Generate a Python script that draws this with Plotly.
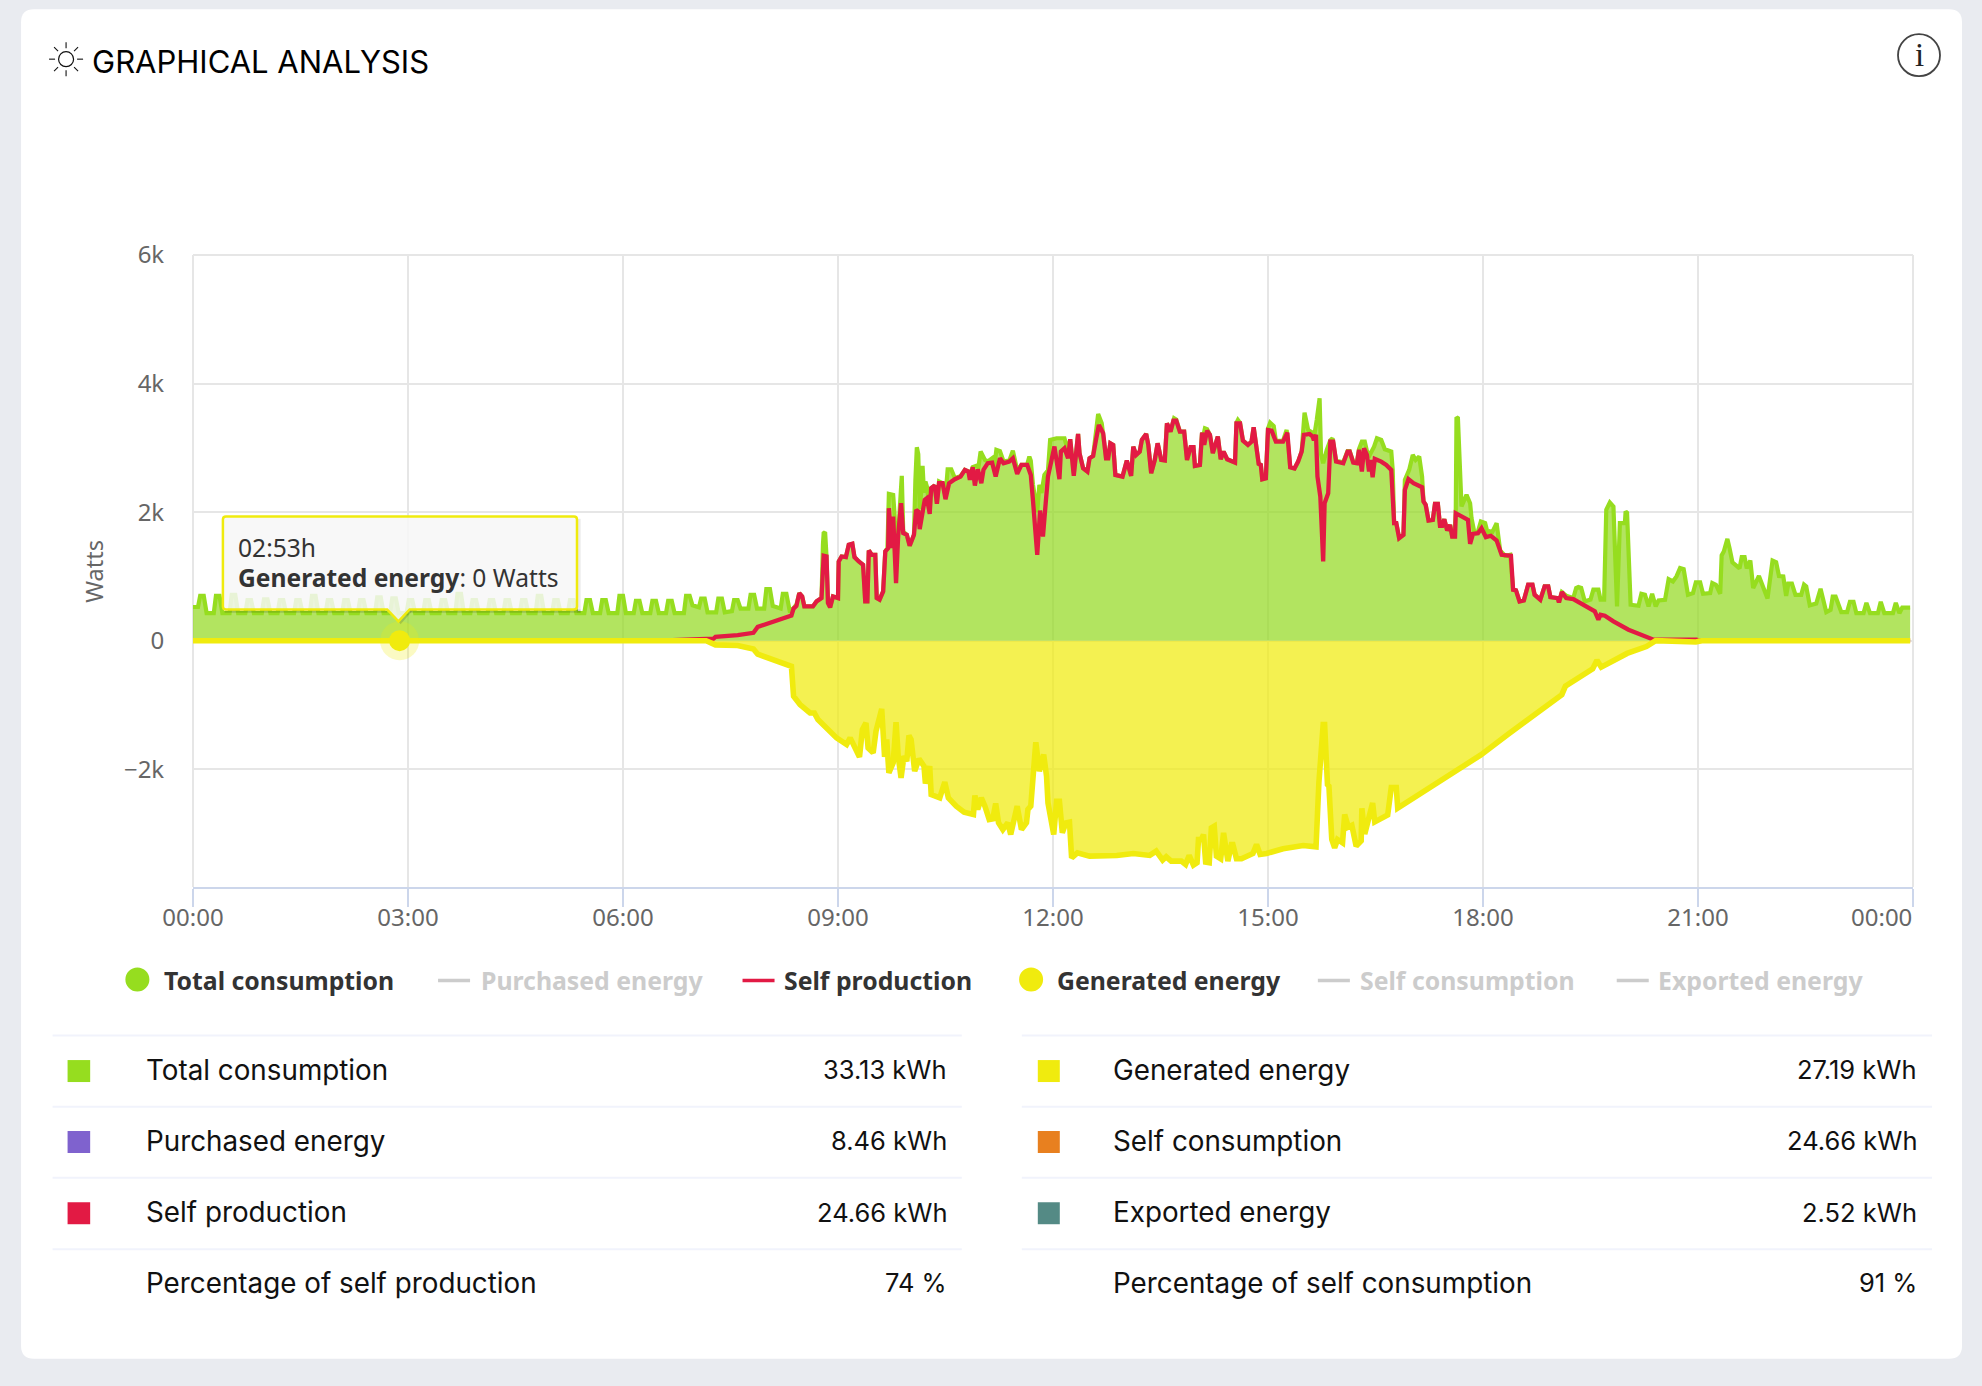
import plotly.graph_objects as go

W, H = 1982, 1386
PL, PR, PT, PB = 193.4, 1913.0, 255.0, 887.5

tick_hours = [0, 3, 6, 9, 12, 15, 18, 21, 24]
tick_labels = ["00:00", "03:00", "06:00", "09:00", "12:00", "15:00", "18:00", "21:00", "00:00"]
y_ticks = [-2000, 0, 2000, 4000, 6000]
y_labels = ["−2k", "0", "2k", "4k", "6k"]

# (hour, watts) readings
total_night = [(0,524),(0.07,524),(0.10,696),(0.15,696),(0.19,428),(0.29,428),(0.32,696),(0.37,696),(0.41,428),(0.51,428),(0.54,712),(0.59,712),(0.63,428),(0.73,428),(0.76,632),(0.81,632),(0.85,428),(0.96,428),(0.99,642),(1.04,642),(1.08,428),(1.18,428),(1.21,632),(1.26,632),(1.30,428),(1.41,428),(1.44,632),(1.49,632),(1.53,428),(1.63,428),(1.66,696),(1.71,696),(1.75,428),(1.85,428),(1.88,632),(1.93,632),(1.97,428),(2.08,428),(2.11,632),(2.16,632),(2.20,428),(2.30,428),(2.33,632),(2.38,632),(2.42,428),(2.54,428),(2.57,674),(2.62,674),(2.66,428),(2.75,428),(2.78,658),(2.83,658),(2.87,428),(2.98,428),(3.01,632),(3.06,632),(3.10,428),(3.21,428),(3.24,632),(3.29,632),(3.33,428),(3.44,428),(3.47,632),(3.52,632),(3.56,428),(3.66,428),(3.69,728),(3.74,728),(3.78,428),(3.87,428),(3.90,632),(3.95,632),(3.99,428),(4.11,428),(4.14,632),(4.19,632),(4.23,428),(4.33,428),(4.36,632),(4.41,632),(4.45,428),(4.56,428),(4.59,632),(4.64,632),(4.68,428),(4.78,428),(4.81,696),(4.86,696),(4.90,428),(5.01,428),(5.04,632),(5.09,632),(5.13,428),(5.23,428),(5.26,632),(5.31,632),(5.35,428),(5.46,428),(5.49,632),(5.54,632),(5.58,428),(5.68,428),(5.71,632),(5.76,632),(5.80,428),(5.92,428),(5.95,696),(6.00,696),(6.04,428),(6.15,428),(6.18,621),(6.23,621),(6.27,428),(6.38,428),(6.41,621),(6.46,621),(6.50,428),(6.60,428),(6.63,621),(6.68,621),(6.72,428),(6.85,428),(6.88,696),(6.93,696),(6.97,550),(7.06,520),(7.09,653),(7.14,653),(7.18,440),(7.30,440),(7.33,653),(7.38,653),(7.42,440),(7.52,460),(7.55,632),(7.60,632),(7.64,500),(7.75,500),(7.78,712),(7.83,712),(7.87,500),(7.97,500),(8.00,803),(8.05,803),(8.09,540),(8.20,500),(8.23,728),(8.28,728),(8.33,440)]
total_morning = [(8.38,520),(8.42,560),(8.46,740),(8.50,689),(8.53,533),(8.65,533),(8.70,611),(8.77,663),(8.79,1500),(8.80,1673),(8.82,1690),(8.84,1310),(8.86,585),(8.89,518),(8.93,689),(9.00,663),(9.01,1232),(9.05,1310),(9.11,1300),(9.15,1491),(9.20,1507),(9.23,1300),(9.29,1232),(9.35,1181),(9.38,611),(9.41,611),(9.43,1403),(9.47,1336),(9.52,1336),(9.54,663),(9.58,637),(9.63,766),(9.66,1388),(9.69,1440),(9.71,2284),(9.77,2268),(9.79,1950),(9.81,1300),(9.84,1647),(9.87,2400),(9.89,2564),(9.91,1700),(9.96,1647),(10.00,1476),(10.06,1647),(10.08,2500),(10.10,3009),(10.12,2900),(10.14,2050),(10.16,2300),(10.18,2719),(10.20,2300),(10.22,2476),(10.24,2400),(10.28,2050),(10.30,2372),(10.35,2414),(10.38,2129),(10.41,2476),(10.46,2450),(10.50,2250),(10.53,2667),(10.58,2667),(10.63,2530),(10.71,2560),(10.77,2657),(10.82,2631),(10.84,2560),(10.88,2700),(10.93,2719),(10.96,2700),(10.99,2942),(11.05,2812),(11.09,2790),(11.15,2838),(11.18,2700),(11.21,2968),(11.26,2950),(11.31,2790),(11.39,2800),(11.44,2957),(11.50,2650),(11.56,2735),(11.64,2740),(11.67,2864),(11.69,2800),(11.72,2430),(11.76,2150),(11.78,2000),(11.81,2424),(11.84,2300),(11.88,2579),(11.93,2650),(11.96,3123)]
total_midday = [(12.05,3149),(12.16,3149),(12.21,2950),(12.24,3133),(12.27,2800),(12.29,2600),(12.32,2900),(12.35,3216),(12.37,2916),(12.42,2683),(12.48,2631),(12.51,2838),(12.56,2874),(12.60,3200),(12.63,3527),(12.68,3382),(12.70,3227),(12.74,2838),(12.77,2838),(12.80,3071),(12.84,3045),(12.87,2579),(12.97,2553),(13.03,2802),(13.09,2564),(13.12,3019),(13.16,2890),(13.21,2942),(13.24,3123),(13.30,3216),(13.33,3045),(13.37,2605),(13.42,2812),(13.46,3071),(13.51,2812),(13.56,2802),(13.59,3382),(13.64,3252),(13.69,3460),(13.72,3440),(13.77,3252),(13.83,3252),(13.87,2812),(13.92,3009),(13.96,3009),(13.98,2719),(14.05,2734),(14.08,3237),(14.10,3200),(14.12,3304),(14.15,3290),(14.19,3201),(14.23,2916),(14.30,3175),(14.34,2823),(14.38,2942),(14.43,2823),(14.54,2771),(14.56,3390),(14.58,3434),(14.61,3390),(14.65,3113),(14.72,3045),(14.77,3097),(14.80,3320),(14.84,2994),(14.87,2750),(14.90,2734),(14.92,2512),(14.97,2527),(15.00,3300),(15.03,3392),(15.08,3340),(15.11,3110),(15.21,3110),(15.26,3278),(15.31,2698),(15.37,2678),(15.42,2786),(15.47,2942),(15.49,3300),(15.51,3548),(15.56,3278),(15.61,3252),(15.65,3220),(15.68,3434),(15.72,3770),(15.74,2900),(15.77,2760),(15.82,2968),(15.87,3120),(15.90,3149)]
total_afternoon = [(15.95,2800),(16.05,2775),(16.11,2950),(16.14,2950),(16.19,2780),(16.24,2770),(16.27,2980),(16.31,3097),(16.35,3097),(16.38,2950),(16.42,2890),(16.48,3019),(16.52,3149),(16.58,3123),(16.63,2978),(16.72,2942),(16.74,2657),(16.76,1828),(16.79,1828),(16.83,1595),(16.89,1647),(16.91,2501),(16.97,2657),(17.02,2890),(17.06,2812),(17.11,2864),(17.15,2553),(17.17,2165),(17.20,2113),(17.24,1869),(17.30,1880),(17.33,2128),(17.37,2128),(17.40,1787),(17.43,1787),(17.46,1890),(17.50,1714),(17.54,1802),(17.57,1621),(17.60,1621),(17.62,2009),(17.63,3475),(17.65,3460),(17.70,2087),(17.77,2268),(17.82,2139),(17.84,1906),(17.88,1680),(17.93,1700),(17.97,1854),(18.03,1828),(18.07,1650),(18.10,1700),(18.13,1690),(18.19,1828),(18.24,1400),(18.31,1320),(18.38,1336),(18.42,793),(18.46,782),(18.51,611),(18.57,627),(18.63,870),(18.69,870),(18.72,715),(18.80,637),(18.86,844),(18.91,844),(18.94,679),(19.04,663),(19.06,596),(19.10,756),(19.16,700),(19.26,663)]
total_evening = [(19.30,820),(19.33,834),(19.37,820),(19.42,611),(19.50,640),(19.54,793),(19.61,793),(19.64,637),(19.69,637),(19.72,2036),(19.77,2150),(19.82,2088),(19.87,534),(19.91,1829),(19.98,1829),(19.99,2010),(20.01,1990),(20.06,559),(20.17,544),(20.21,730),(20.26,715),(20.31,534),(20.36,730),(20.41,534),(20.45,627),(20.54,637),(20.59,958),(20.65,922),(20.70,1000),(20.75,1129),(20.80,1114),(20.86,715),(20.93,741),(20.97,906),(21.03,906),(21.07,730),(21.17,741),(21.20,896),(21.25,870),(21.31,730),(21.33,1327),(21.36,1388),(21.41,1584),(21.44,1440),(21.48,1220),(21.58,1124),(21.61,1300),(21.65,1300),(21.68,1124),(21.73,1247),(21.77,819),(21.85,1006),(21.97,658),(22.04,1247),(22.09,1220),(22.13,1006),(22.19,1000),(22.23,695),(22.26,888),(22.31,888),(22.36,712),(22.44,712),(22.48,872),(22.51,845),(22.56,551),(22.65,578),(22.71,808),(22.79,444),(22.85,480),(22.88,685),(22.92,685),(23.00,444),(23.08,444),(23.12,605),(23.17,605),(23.21,428),(23.31,428),(23.35,589),(23.40,428),(23.51,428),(23.55,605),(23.60,428),(23.72,428),(23.76,589),(23.81,428),(23.85,514),(23.96,514)]

self_morning = [(0,0),(6.50,0),(7.26,30),(7.29,59),(7.60,86),(7.82,123),(7.88,214),(8.35,390),(8.38,500),(8.42,540),(8.46,740),(8.50,689),(8.53,533),(8.65,533),(8.70,611),(8.77,663),(8.80,1321),(8.84,1310),(8.86,585),(8.89,518),(8.93,689),(9.00,663),(9.01,1232),(9.05,1310),(9.11,1300),(9.15,1491),(9.20,1507),(9.23,1300),(9.29,1232),(9.35,1181),(9.38,611),(9.41,611),(9.43,1403),(9.47,1336),(9.52,1336),(9.54,663),(9.58,637),(9.63,766),(9.66,1388),(9.70,1440),(9.71,2061),(9.75,1440),(9.77,1932),(9.81,896),(9.84,1647),(9.88,2139),(9.91,1673),(9.96,1647),(10.00,1476),(10.06,1647),(10.09,2035),(10.12,2010),(10.14,1735),(10.18,1958),(10.21,2191),(10.24,2217),(10.28,1973),(10.30,2372),(10.35,2414),(10.38,2129),(10.41,2450),(10.46,2450),(10.50,2201),(10.55,2450),(10.63,2512),(10.71,2553),(10.77,2657),(10.82,2631),(10.84,2502),(10.88,2698),(10.91,2414),(10.95,2667),(11.00,2450),(11.03,2657),(11.09,2761),(11.15,2771),(11.20,2553),(11.26,2838),(11.31,2761),(11.39,2787),(11.44,2838),(11.50,2595),(11.56,2735),(11.64,2735),(11.69,2579),(11.72,2191),(11.78,1336),(11.82,2025),(11.86,1621),(11.90,2165),(11.93,2553),(11.98,2812),(12.02,3020)]
self_midday = [(12.09,2512),(12.11,2942),(12.16,2994),(12.21,2838),(12.24,3133),(12.29,2564),(12.35,3216),(12.37,2916),(12.42,2683),(12.48,2631),(12.51,2838),(12.56,2874),(12.60,3123),(12.64,3356),(12.70,3227),(12.74,2838),(12.77,2838),(12.80,3071),(12.84,3045),(12.87,2579),(12.97,2553),(13.03,2802),(13.09,2564),(13.12,3019),(13.16,2890),(13.21,2942),(13.24,3123),(13.30,3216),(13.33,3045),(13.37,2605),(13.42,2812),(13.46,3071),(13.51,2812),(13.56,2802),(13.59,3382),(13.64,3252),(13.68,3423),(13.72,3423),(13.77,3252),(13.83,3252),(13.87,2812),(13.92,3009),(13.96,3009),(13.98,2719),(14.05,2734),(14.08,3237),(14.11,3045),(14.15,3268),(14.19,3201),(14.23,2916),(14.30,3175),(14.34,2823),(14.38,2942),(14.43,2823),(14.54,2771),(14.56,3382),(14.61,3382),(14.65,3113),(14.72,3045),(14.77,3097),(14.80,3320),(14.84,2994),(14.87,2750),(14.90,2734),(14.92,2512),(14.97,2527),(15.00,3278),(15.05,3268),(15.11,3097),(15.21,3097),(15.27,3237),(15.31,2698),(15.37,2678),(15.42,2786),(15.47,2942),(15.50,3201),(15.58,3216),(15.62,3180),(15.64,3120),(15.67,3201)]
self_afternoon = [(15.69,2553),(15.73,2242),(15.77,1232),(15.79,2139),(15.84,2294),(15.87,3097),(15.91,3097),(15.95,2786),(16.05,2760),(16.11,2942),(16.14,2942),(16.19,2771),(16.24,2760),(16.27,2968),(16.31,2631),(16.34,2994),(16.38,2890),(16.41,2631),(16.43,2812),(16.46,2543),(16.49,2828),(16.58,2786),(16.65,2734),(16.72,2657),(16.76,1828),(16.79,1828),(16.83,1595),(16.89,1647),(16.91,2346),(16.96,2512),(17.03,2450),(17.15,2387),(17.17,2165),(17.20,2113),(17.24,1869),(17.30,1880),(17.33,2128),(17.37,2128),(17.40,1787),(17.43,1787),(17.46,1890),(17.50,1714),(17.54,1802),(17.57,1621),(17.61,1621),(17.62,1983),(17.79,1880),(17.82,1507),(17.86,1662),(17.93,1673),(17.98,1750),(18.04,1611),(18.11,1632),(18.19,1559),(18.26,1336),(18.39,1321),(18.42,793),(18.46,782),(18.51,611),(18.57,627),(18.63,870),(18.69,870),(18.72,715),(18.80,637),(18.86,844),(18.91,844),(18.94,679),(19.04,663),(19.06,596),(19.10,756),(19.16,663),(19.26,648),(19.40,559),(19.56,456),(19.61,326),(19.64,404),(19.70,389),(19.82,300),(20.03,171),(20.19,104),(20.35,41),(20.38,15),(20.98,15),(21.00,0),(23.96,0)]

generated_morning = [(0,0),(7.16,0),(7.29,-65),(7.60,-75),(7.82,-128),(7.88,-210),(8.35,-399),(8.38,-865),(8.47,-994),(8.52,-1036),(8.61,-1124),(8.67,-1124),(8.72,-1227),(8.98,-1512),(9.12,-1616),(9.17,-1512),(9.23,-1642),(9.30,-1808),(9.34,-1383),(9.39,-1279),(9.42,-1668),(9.47,-1745),(9.49,-1745),(9.53,-1409),(9.56,-1305),(9.61,-1062),(9.65,-1808),(9.68,-1538),(9.71,-2056),(9.77,-1901),(9.81,-1269),(9.84,-1797),(9.88,-2134),(9.92,-1797),(9.96,-1875),(9.99,-1476),(10.02,-1538),(10.07,-2030),(10.13,-1839),(10.20,-1953),(10.22,-2222),(10.28,-1953),(10.30,-2393),(10.42,-2445),(10.49,-2201),(10.54,-2445),(10.65,-2574),(10.76,-2667),(10.89,-2704),(10.91,-2408),(10.95,-2626),(11.00,-2445),(11.05,-2574),(11.11,-2781),(11.16,-2771),(11.20,-2533),(11.24,-2833),(11.30,-2937),(11.37,-2833),(11.41,-3015),(11.50,-2574),(11.56,-2937),(11.63,-2833),(11.65,-2626),(11.69,-2574),(11.76,-1580),(11.81,-2030),(11.87,-1771),(11.91,-2108),(11.93,-2522),(12.01,-3015)]
generated_midday = [(12.05,-2497),(12.09,-2497),(12.13,-2989),(12.18,-2834),(12.23,-2823),(12.26,-3378),(12.34,-3300),(12.51,-3352),(12.89,-3341),(13.12,-3310),(13.35,-3341),(13.44,-3274),(13.53,-3414),(13.58,-3362),(13.65,-3429),(13.79,-3429),(13.85,-3481),(13.90,-3341),(13.96,-3491),(14.01,-3455),(14.03,-3093),(14.07,-3093),(14.10,-3015),(14.13,-3445),(14.18,-3455),(14.21,-2911),(14.25,-2885),(14.28,-3352),(14.34,-3393),(14.38,-2989),(14.44,-3429),(14.49,-3170),(14.51,-3170),(14.56,-3393),(14.63,-3393),(14.79,-3310),(14.84,-3170),(14.89,-3326),(14.98,-3310),(15.21,-3238),(15.49,-3186),(15.67,-3207),(15.71,-2212),(15.77,-1305),(15.79,-1305),(15.83,-2238),(15.85,-2264),(15.89,-3093),(15.93,-3222),(15.97,-3093)]
generated_afternoon = [(16.04,-3144),(16.07,-2704),(16.12,-2900),(16.17,-2873),(16.23,-3195),(16.30,-3115),(16.31,-2606),(16.35,-3007),(16.46,-2526),(16.49,-2820),(16.67,-2713),(16.72,-2285),(16.79,-2285),(16.81,-2606),(17.07,-2419),(17.50,-2098),(17.97,-1777),(18.35,-1456),(18.78,-1108),(19.10,-840),(19.15,-706),(19.53,-439),(19.59,-305),(19.65,-412),(20.01,-198),(20.28,-91),(20.41,0),(20.97,-21),(21.05,0),(23.96,0)]

hover_hour = [2.883]
hover_watts = [0]

legend_names = ["Total consumption", "Purchased energy", "Self production", "Generated energy", "Self consumption", "Exported energy"]
left_rows = ["Total consumption", "Purchased energy", "Self production", "Percentage of self production"]
left_vals = ["33.13 kWh", "8.46 kWh", "24.66 kWh", "74 %"]
right_rows = ["Generated energy", "Self consumption", "Exported energy", "Percentage of self consumption"]
right_vals = ["27.19 kWh", "24.66 kWh", "2.52 kWh", "91 %"]

C_GREEN, C_RED, C_YEL, C_PUR, C_ORG, C_TEAL = "#96DD1F", "#E21A44", "#F0EB0E", "#7F62CE", "#E8801F", "#548A85"
CHART_FONT = "Noto Sans"
TABLE_FONT = "Inter"

def unzip(*parts):
    pts = [p for part in parts for p in part]
    return [p[0] for p in pts], [p[1] for p in pts]

total_x, total_y = unzip(total_night, total_morning, total_midday, total_afternoon, total_evening)
self_x, self_y = unzip(self_morning, self_midday, self_afternoon)
gen_x, gen_y = unzip(generated_morning, generated_midday, generated_afternoon)

fig = go.Figure()
fig.add_trace(go.Scatter(x=total_x, y=total_y, name="Total consumption", mode="lines", fill="tozeroy",
                         line=dict(color=C_GREEN, width=4.2), fillcolor="rgba(148,218,34,0.72)"))
fig.add_trace(go.Scatter(x=self_x, y=self_y, name="Self production", mode="lines",
                         line=dict(color=C_RED, width=4.3)))
fig.add_trace(go.Scatter(x=gen_x, y=gen_y, name="Generated energy", mode="lines", fill="tozeroy",
                         line=dict(color=C_YEL, width=5.6), fillcolor="rgba(240,235,14,0.72)"))
fig.add_trace(go.Scatter(x=hover_hour, y=hover_watts, mode="markers", hoverinfo="skip",
                         marker=dict(size=39, color="rgba(240,235,14,0.25)", line=dict(width=0))))
fig.add_trace(go.Scatter(x=hover_hour, y=hover_watts, mode="markers", hoverinfo="skip",
                         marker=dict(size=21, color=C_YEL, line=dict(width=0))))

def px(x): return (x - PL) / (PR - PL)
def py(y): return (PB - y) / (PB - PT)

shapes, notes = [], []

def rect(x0, y0, x1, y1, color, layer="below"):
    shapes.append(dict(type="rect", xref="paper", yref="paper", x0=px(x0), x1=px(x1), y0=py(y0), y1=py(y1),
                       fillcolor=color, line=dict(width=0), layer=layer))

def line(x0, y0, x1, y1, color, width, layer="below"):
    shapes.append(dict(type="line", xref="paper", yref="paper", x0=px(x0), x1=px(x1), y0=py(y0), y1=py(y1),
                       line=dict(color=color, width=width), layer=layer))

def circle(cx, cy, r, fill, stroke=None, sw=0, layer="below"):
    shapes.append(dict(type="circle", xref="paper", yref="paper", x0=px(cx - r), x1=px(cx + r), y0=py(cy + r), y1=py(cy - r),
                       fillcolor=fill, line=dict(color=stroke or fill, width=sw), layer=layer))

def text(x, y, s, size, color, font, anchor="left", angle=0):
    notes.append(dict(text=s, xref="paper", yref="paper", x=px(x), y=py(y), xanchor=anchor, yanchor="middle",
                      showarrow=False, textangle=angle, align="left",
                      font=dict(size=size, color=color, family=font)))

def rounded(x0, y0, x1, y1, r):
    p = lambda a, b: f"{px(a):.5f} {py(b):.5f}"
    return (f"M {p(x0+r,y0)} L {p(x1-r,y0)} Q {p(x1,y0)} {p(x1,y0+r)} L {p(x1,y1-r)} Q {p(x1,y1)} {p(x1-r,y1)} "
            f"L {p(x0+r,y1)} Q {p(x0,y1)} {p(x0,y1-r)} L {p(x0,y0+r)} Q {p(x0,y0)} {p(x0+r,y0)} Z")

# card
shapes.append(dict(type="path", xref="paper", yref="paper", path=rounded(21.5, 9, 1962, 1359.5, 13),
                   fillcolor="#FFFFFF", line=dict(width=0), layer="below"))

# plot frame gridlines that sit on the range edges
line(PL, PT, PR, PT, "#E6E6E6", 2)
line(PL, PT, PL, PB, "#E6E6E6", 2)
line(PR, PT, PR, PB, "#E6E6E6", 2)

# title + sun icon
cx, cy = 66.5, 59
circle(cx, cy, 7.5, "rgba(0,0,0,0)", "#111111", 1.2)
for dx0, dy0, dx1, dy1 in [(0,-11,0,-17),(0,11,0,17),(-11,0,-17,0),(11,0,17,0),
                           (-8,-8,-12,-12),(8,-8,12,-12),(-8,8,-12,12),(8,8,12,12)]:
    line(cx+dx0, cy+dy0, cx+dx1, cy+dy1, "#111111", 1.1)
text(90.5, 61.5, "GRAPHICAL ANALYSIS", 31, "#000000", TABLE_FONT)

# info icon
circle(1919, 55, 21, "rgba(0,0,0,0)", "#444444", 1.8)
text(1919, 55, "i", 33, "#222222", "Liberation Serif", "center")

# y axis caption
text(95, 571.5, "Watts", 23.5, "#666666", CHART_FONT, "center", -90)

# last x label sits inside the plot's right edge
text(1914, 917.5, tick_labels[-1], 24, "#666666", CHART_FONT, "right")

# legend
lx = [(162, None), (479, 438.4), (782, 742.8), (1055.5, None), (1358, 1318), (1656.5, 1616.8)]
ly = 980.5
LEG_SIZE = 24.8
for i, name in enumerate(legend_names):
    muted = i in (1, 4, 5)
    text(lx[i][0], ly, f"<b>{name}</b>", LEG_SIZE, "#CCCCCC" if muted else "#333333", CHART_FONT)
    if lx[i][1] is not None:
        line(lx[i][1], 981, lx[i][1] + 32, 981, "#CCCCCC" if muted else C_RED, 3.4)
circle(137.8, 980, 12, C_GREEN)
circle(1031.3, 980, 12, C_YEL)

# summary tables
row_lines = [1036, 1107.5, 1178.5, 1250]
row_centres = [1070.5, 1141.5, 1212.8, 1283.8]
swatch_centres = [1071.7, 1142.7, 1214]
for y in row_lines:
    line(53, y, 962, y, "#F1F3FC", 2)
    line(1022, y, 1932, y, "#F1F3FC", 2)
left_sw = [C_GREEN, C_PUR, C_RED]
right_sw = [C_YEL, C_ORG, C_TEAL]
TSIZE, VSIZE = 27.8, 25.5
for i in range(4):
    yc = row_centres[i]
    text(144.8, yc, left_rows[i], TSIZE, "#111111", TABLE_FONT)
    text(949, yc, left_vals[i], VSIZE, "#111111", TABLE_FONT, "right")
    text(1111, yc, right_rows[i], TSIZE, "#111111", TABLE_FONT)
    text(1918.5, yc, right_vals[i], VSIZE, "#111111", TABLE_FONT, "right")
    if i < 3:
        sy = swatch_centres[i]
        rect(68, sy - 11, 90.6, sy + 11, left_sw[i])
        rect(1038, sy - 11, 1060, sy + 11, right_sw[i])

# tooltip
def tip_path():
    p = lambda a, b: f"{px(a):.5f} {py(b):.5f}"
    x0, y0, x1, y1, r = 223.3, 516.7, 577.3, 609.7, 3
    return (f"M {p(x0+r,y0)} L {p(x1-r,y0)} Q {p(x1,y0)} {p(x1,y0+r)} L {p(x1,y1-r)} Q {p(x1,y1)} {p(x1-r,y1)} "
            f"L {p(410,y1)} L {p(398.8,621.7)} L {p(387.5,y1)} L {p(x0+r,y1)} Q {p(x0,y1)} {p(x0,y1-r)} "
            f"L {p(x0,y0+r)} Q {p(x0,y0)} {p(x0+r,y0)} Z")
# soft drop shadow along the right and bottom edges
rect(577.3, 519, 581, 613, "rgba(0,0,0,0.08)", "above")
rect(225, 609.7, 387.5, 613, "rgba(0,0,0,0.14)", "above")
rect(410, 609.7, 581, 613, "rgba(0,0,0,0.14)", "above")
shapes.append(dict(type="path", xref="paper", yref="paper", layer="above",
                   path=f"M {px(410):.5f} {py(609.7):.5f} L {px(414):.5f} {py(609.7):.5f} L {px(401):.5f} {py(624.5):.5f} L {px(398.8):.5f} {py(621.7):.5f} Z",
                   fillcolor="rgba(0,0,0,0.14)", line=dict(width=0)))
shapes.append(dict(type="path", xref="paper", yref="paper", path=tip_path(), layer="above",
                   fillcolor="rgba(247,247,247,0.85)", line=dict(color=C_YEL, width=2.5)))
text(236, 547.5, "02:53h", 24.6, "#333333", CHART_FONT)
text(236, 578, "<b>Generated energy</b>: 0 Watts", 24.6, "#333333", CHART_FONT)

fig.update_layout(
    width=W, height=H, autosize=False, showlegend=False,
    margin=dict(l=PL, r=W - PR, t=PT, b=H - PB, pad=0),
    paper_bgcolor="#E9EBF0", plot_bgcolor="rgba(0,0,0,0)",
    shapes=shapes, annotations=notes, hovermode="closest",
    font=dict(family=CHART_FONT, color="#666666", size=24),
    xaxis=dict(range=[0, 24], tickmode="array", tickvals=tick_hours, ticktext=tick_labels[:-1] + [""],
               showgrid=True, gridcolor="#E6E6E6", gridwidth=2, zeroline=False,
               showline=True, linecolor="#CCD6EB", linewidth=2,
               ticks="outside", ticklen=18, tickcolor="#CCD6EB", tickwidth=2, ticklabelstandoff=-10,
               tickfont=dict(size=24, color="#666666", family=CHART_FONT), layer="below traces"),
    yaxis=dict(range=[(641 - PB) / 0.06433, 6000], tickmode="array", tickvals=y_ticks, ticktext=y_labels,
               showgrid=True, gridcolor="#E6E6E6", gridwidth=2, zeroline=False, showline=False,
               ticks="outside", ticklen=18, tickcolor="rgba(0,0,0,0)", tickwidth=0, ticklabelstandoff=5,
               tickfont=dict(size=24, color="#666666", family=CHART_FONT), layer="below traces"),
)

fig.write_html("out.html", config={"displayModeBar": False},
               post_script="document.body.style.margin='0';document.body.style.overflow='hidden';document.body.style.background='#E9EBF0';")
